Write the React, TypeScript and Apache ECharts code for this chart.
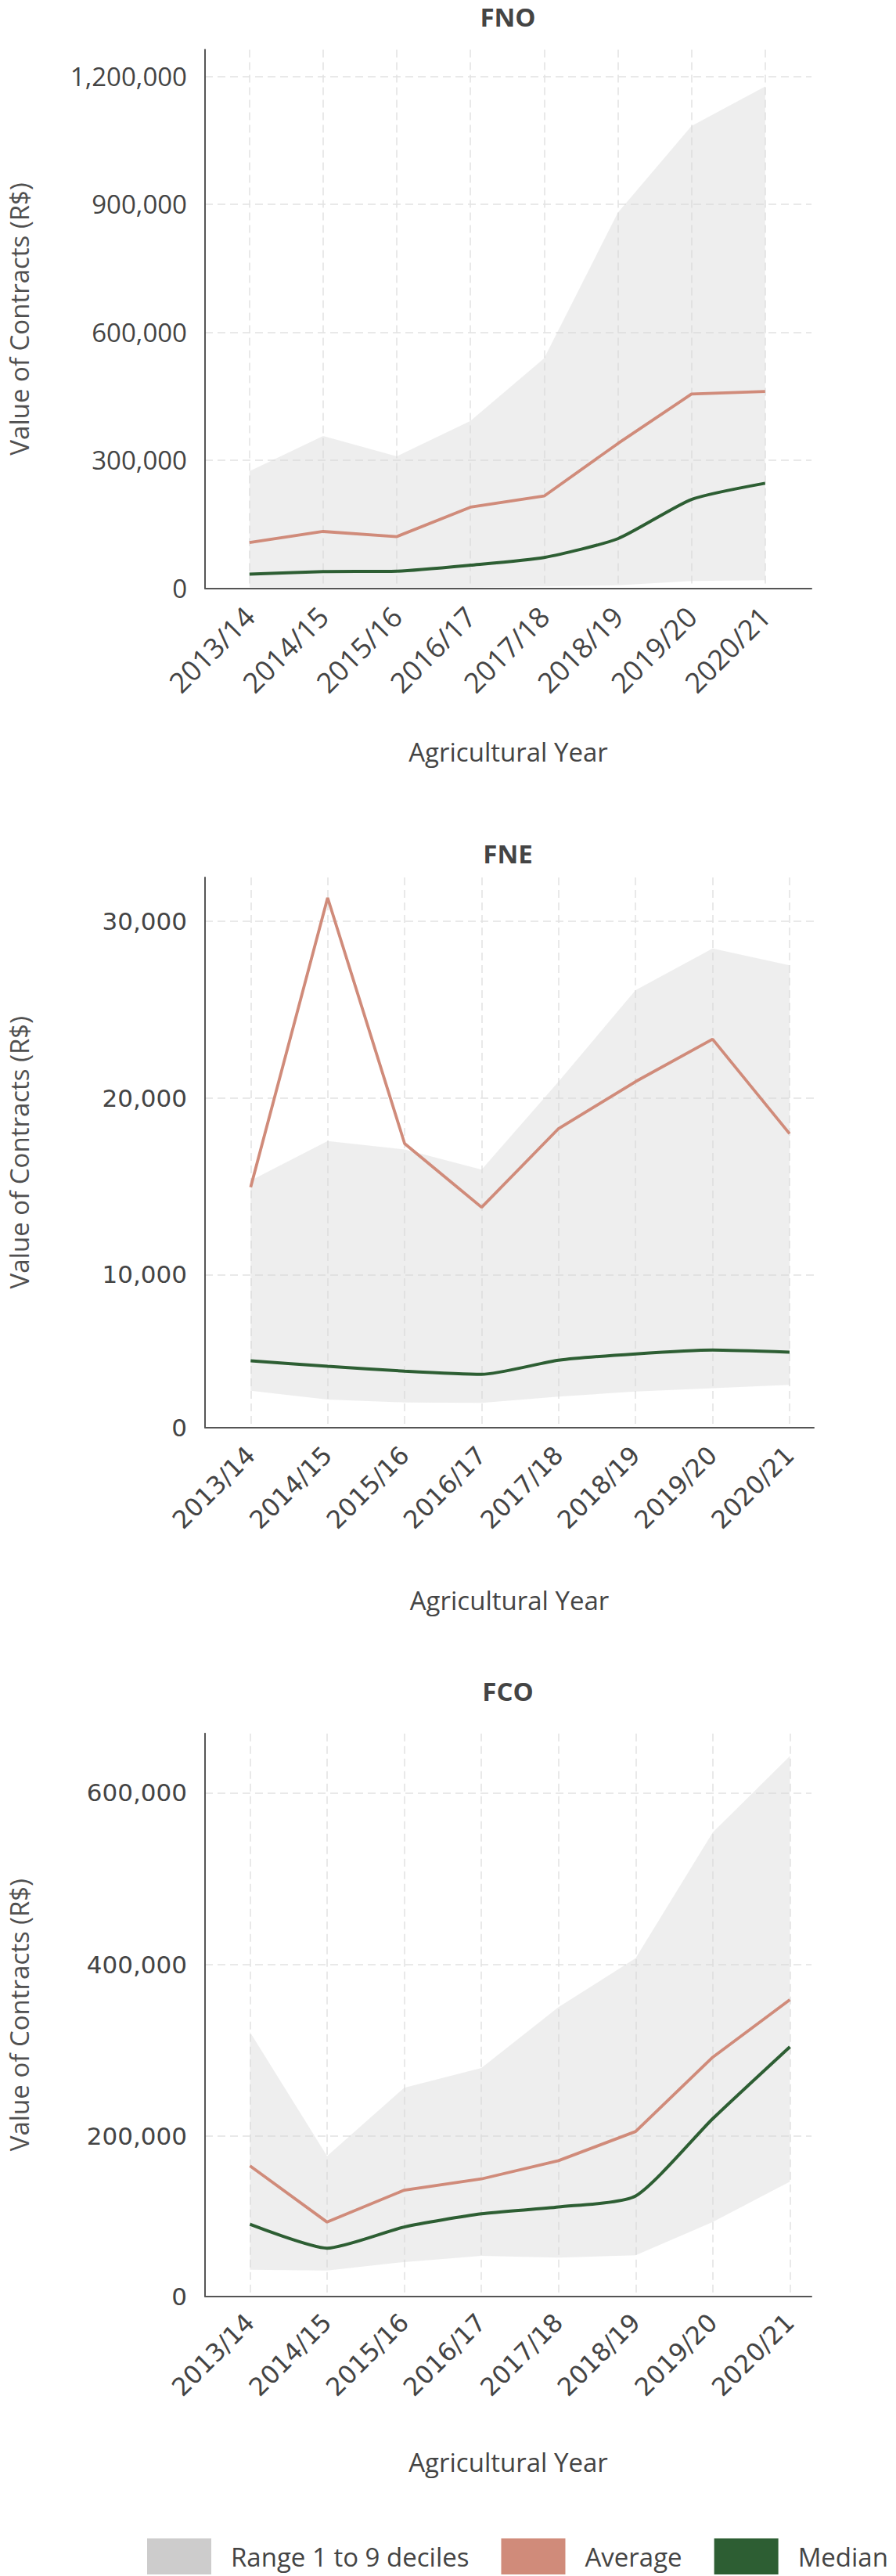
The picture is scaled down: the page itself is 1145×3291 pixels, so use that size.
import React, { useEffect, useRef } from "react";
import * as echarts from "echarts";

// ---------- data ----------
const YEARS = ["2013/14", "2014/15", "2015/16", "2016/17", "2017/18", "2018/19", "2019/20", "2020/21"];

const FNO_P10 = [2000, 2000, 2000, 2000, 4000, 7000, 17000, 19000];
const FNO_P90 = [274000, 357000, 309000, 392000, 539000, 880000, 1083000, 1176000];
const FNO_AVG = [107000, 133000, 121000, 190000, 216000, 339000, 455000, 461000];
const FNO_MED = [33000, 39000, 40000, 54000, 72000, 116000, 208000, 246000];

const FNE_P10 = [3420, 2920, 2760, 2740, 3090, 3380, 3570, 3750];
const FNE_P90 = [15320, 17560, 17090, 15940, 20930, 26110, 28470, 27510];
const FNE_AVG = [14950, 31340, 17420, 13810, 18270, 20930, 23330, 17980];
const FNE_MED = [5120, 4810, 4530, 4350, 5150, 5510, 5730, 5610];

const FCO_P10 = [43900, 42800, 52800, 60000, 58000, 60600, 99400, 146600];
const FCO_P90 = [321000, 176400, 256000, 279000, 350000, 407000, 553700, 642800];
const FCO_AVG = [165000, 99400, 136600, 149700, 171000, 205000, 291700, 358800];
const FCO_MED = [96800, 69000, 93700, 109000, 117000, 129800, 220000, 303800];

const FNO_Y_TICKS = [0, 300000, 600000, 900000, 1200000];
const FNO_Y_LABELS = ["0", "300,000", "600,000", "900,000", "1,200,000"];
const FNE_Y_TICKS = [1350, 10000, 20000, 30000];
const FNE_Y_LABELS = ["0", "10,000", "20,000", "30,000"];
const FCO_Y_TICKS = [13000, 200000, 400000, 600000];
const FCO_Y_LABELS = ["0", "200,000", "400,000", "600,000"];

const RANGE_NAME = "Range 1 to 9 deciles";
const AVG_NAME = "Average";
const MED_NAME = "Median";

// ---------- layout / style ----------
const W = 1145;
const H = 3291;
const TEXT = "#444444";
const AXIS = "#555555";
const GRID_LINE = "#e2e2e2";
const BAND_LEGEND = "#cdcccc";
const AVG_COLOR = "#d08b7a";
const MED_COLOR = "#2d5e33";

const PANELS = [
  {
    title: "FNO", p10: FNO_P10, p90: FNO_P90, avg: FNO_AVG, med: FNO_MED,
    yMin: 0, yMax: 1262000, yTicks: FNO_Y_TICKS, yLabels: FNO_Y_LABELS,
    titleTop: 5, top: 63.5, height: 688, axisLeft: 260, axisRight: 1037,
    plotLeft: 318.8, plotRight: 977.8, xNameGap: 192,
    tickFont: "Open Sans", yTickSize: 33, xTickSize: 36, xMargin: 30,
  },
  {
    title: "FNE", p10: FNE_P10, p90: FNE_P90, avg: FNE_AVG, med: FNE_MED,
    yMin: 1350, yMax: 32490, yTicks: FNE_Y_TICKS, yLabels: FNE_Y_LABELS,
    titleTop: 1074, top: 1121, height: 702.5, axisLeft: 261, axisRight: 1040,
    plotLeft: 320.3, plotRight: 1009, xNameGap: 204,
    tickFont: "DejaVu Sans", yTickSize: 31, xTickSize: 32, xMargin: 30,
  },
  {
    title: "FCO", p10: FCO_P10, p90: FCO_P90, avg: FCO_AVG, med: FCO_MED,
    yMin: 13000, yMax: 669000, yTicks: FCO_Y_TICKS, yLabels: FCO_Y_LABELS,
    titleTop: 2144, top: 2214.8, height: 718.7, axisLeft: 260.3, axisRight: 1037,
    plotLeft: 319.4, plotRight: 1009.4, xNameGap: 195,
    tickFont: "DejaVu Sans", yTickSize: 31, xTickSize: 32, xMargin: 28,
  },
];

function buildOption() {
  const grid: any[] = [];
  const xAxis: any[] = [];
  const yAxis: any[] = [];
  const series: any[] = [];
  const title: any[] = [];

  PANELS.forEach((p, i) => {
    const ga = 2 * i;
    const gp = 2 * i + 1;
    grid.push({ left: p.axisLeft, top: p.top, width: p.axisRight - p.axisLeft, height: p.height, containLabel: false });
    grid.push({ left: p.plotLeft, top: p.top, width: p.plotRight - p.plotLeft, height: p.height, containLabel: false });

    title.push({
      text: p.title, left: 649, top: p.titleTop, textAlign: "center", padding: 0,
      textStyle: { fontFamily: "Open Sans", fontWeight: "bold", fontSize: 33, lineHeight: 33, color: TEXT },
    });

    // frame axes (axis lines, y labels, horizontal grid)
    xAxis.push({
      type: "value", gridIndex: ga, min: 0, max: 1,
      axisLine: { show: true, onZero: false, lineStyle: { color: AXIS, width: 2 } },
      axisTick: { show: false }, axisLabel: { show: false }, splitLine: { show: false },
      name: "Agricultural Year", nameLocation: "middle", nameGap: p.xNameGap,
      nameTextStyle: { fontFamily: "Open Sans", fontSize: 33, color: TEXT },
    });
    yAxis.push({
      type: "value", gridIndex: ga, min: p.yMin, max: p.yMax,
      axisLine: { show: true, onZero: false, lineStyle: { color: AXIS, width: 2 } },
      axisTick: { show: false, customValues: p.yTicks },
      axisLabel: {
        customValues: p.yTicks, margin: 23, fontFamily: p.tickFont, fontSize: p.yTickSize, color: TEXT,
        formatter: (v: number) => {
          const k = p.yTicks.indexOf(v);
          return k >= 0 ? p.yLabels[k] : "";
        },
      },
      splitLine: { show: true, lineStyle: { color: GRID_LINE, width: 1.5, type: [10, 6] } },
      name: "Value of Contracts (R$)", nameLocation: "middle", nameGap: 221,
      nameTextStyle: { fontFamily: "Open Sans", fontSize: 33, color: "#505050" },
    });

    // plotting axes (categories, vertical grid, data)
    xAxis.push({
      type: "category", gridIndex: gp, data: YEARS, boundaryGap: false,
      axisLine: { show: false }, axisTick: { show: false },
      axisLabel: { rotate: 45, margin: p.xMargin, fontFamily: p.tickFont, fontSize: p.xTickSize, color: TEXT, interval: 0 },
      splitLine: { show: true, lineStyle: { color: GRID_LINE, width: 1.5, type: [10, 6] } },
    });
    yAxis.push({ type: "value", gridIndex: gp, min: p.yMin, max: p.yMax, show: false, splitLine: { show: false } });

    const spread = p.p90.map((v, k) => v - p.p10[k]);
    series.push({
      name: "p10-" + p.title, type: "line", xAxisIndex: gp, yAxisIndex: gp, stack: "band" + i,
      data: p.p10, symbol: "none", silent: true, lineStyle: { width: 0, opacity: 0 }, z: 1,
    });
    series.push({
      name: RANGE_NAME, type: "line", xAxisIndex: gp, yAxisIndex: gp, stack: "band" + i,
      data: spread, symbol: "none", silent: true,
      lineStyle: { width: 0, opacity: 0 },
      itemStyle: { color: BAND_LEGEND },
      areaStyle: { color: "#d4d4d4", opacity: 0.4 }, z: 1,
    });
    series.push({
      name: AVG_NAME, type: "line", xAxisIndex: gp, yAxisIndex: gp, data: p.avg, symbol: "none",
      lineStyle: { color: AVG_COLOR, width: 3.8 }, itemStyle: { color: AVG_COLOR }, z: 3,
    });
    series.push({
      name: MED_NAME, type: "line", xAxisIndex: gp, yAxisIndex: gp, data: p.med, symbol: "none", smooth: 0.2,
      lineStyle: { color: MED_COLOR, width: 4 }, itemStyle: { color: MED_COLOR }, z: 4,
    });
  });

  return {
    animation: false,
    backgroundColor: "#ffffff",
    title,
    grid,
    xAxis,
    yAxis,
    series,
    legend: {
      data: [
        { name: RANGE_NAME, itemStyle: { color: BAND_LEGEND } },
        { name: AVG_NAME, itemStyle: { color: AVG_COLOR } },
        { name: MED_NAME, itemStyle: { color: MED_COLOR } },
      ],
      left: 188, top: 3243, padding: 0, icon: "rect",
      itemWidth: 82, itemHeight: 46, itemGap: 41, selectedMode: false,
      textStyle: { fontFamily: "Open Sans", fontSize: 33, color: TEXT, padding: [0, 0, 0, 20] },
    },
  };
}

export default function App() {
  const ref = useRef<HTMLDivElement>(null);
  useEffect(() => {
    if (!ref.current) return;
    const chart = echarts.init(ref.current, null, { renderer: "svg", width: W, height: H });
    chart.setOption(buildOption() as any);
    return () => chart.dispose();
  }, []);
  return (
    <div
      ref={ref}
      style={{ position: "absolute", left: 0, top: 0, width: W, height: H, background: "#ffffff" }}
    />
  );
}
